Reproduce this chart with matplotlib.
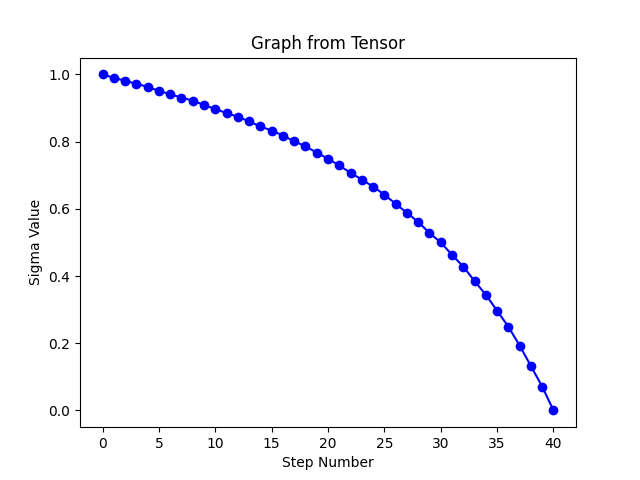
import matplotlib
matplotlib.use("Agg")
import matplotlib.pyplot as plt

# sigma values, one per step
steps = list(range(41))
sigmas = [1.000, 0.990, 0.981, 0.972, 0.963, 0.951, 0.941, 0.931, 0.922, 0.909,
          0.897, 0.885, 0.874, 0.860, 0.845, 0.833, 0.818, 0.801, 0.786, 0.767,
          0.749, 0.729, 0.707, 0.687, 0.666, 0.642, 0.615, 0.588, 0.561, 0.528,
          0.500, 0.463, 0.428, 0.385, 0.344, 0.297, 0.249, 0.193, 0.132, 0.071,
          0.000]

fig, ax = plt.subplots(figsize=(6.4, 4.8), dpi=100)
ax.plot(steps, sigmas, marker="o", linestyle="-", color="b")
ax.set_title("Graph from Tensor")
ax.set_xlabel("Step Number")
ax.set_ylabel("Sigma Value")

fig.savefig("out.png")
